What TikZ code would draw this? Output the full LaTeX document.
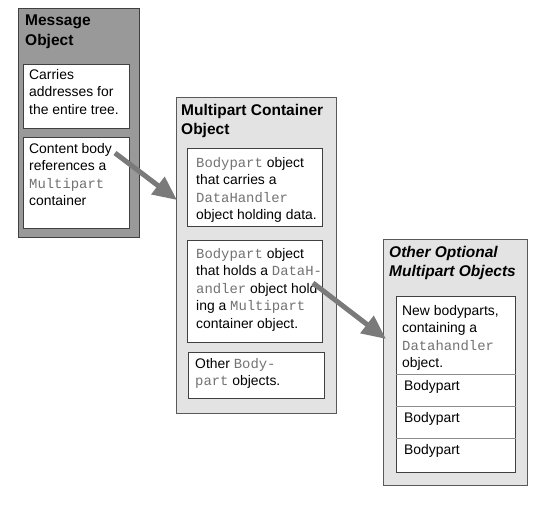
\documentclass[tikz,border=0pt]{standalone}
\usepackage{fontspec}
\setmainfont{Liberation Sans}
\setmonofont{Liberation Mono}
\usetikzlibrary{arrows.meta}
\definecolor{codegray}{gray}{0.45}
\newcommand{\cls}[1]{\textcolor{codegray}{\texttt{#1}}}
\begin{document}
\begin{tikzpicture}
      [x=1pt,y=-1pt,
      every node/.style={anchor=north west, inner sep=0pt},
      panel/.style={draw=black!65, fill=black!11},
      cell/.style={draw=black!75, fill=white, semithick},
      title/.style={align=left, font=\fontsize{15.5}{19.5}\selectfont\bfseries},
      txt/.style={align=left, font=\fontsize{13.9}{17.5}\selectfont},
      bigarrow/.style={draw=black!52, line width=5pt, -{Triangle[length=24pt,width=21pt]}},
      ]
      \useasboundingbox (0,0) rectangle (554,510);
      % message object
      \node[panel, fill=black!40, draw=black!75, minimum width=121pt, minimum height=229pt] (msg) at (18,8) {};
      \node[title] (msgtitle) at (25,15) {Message\\Object};
      \node[cell, minimum width=106pt, minimum height=64pt] (carry) at (23,64) {};
      \node[txt] (carrytxt) at (29,69) {Carries\\addresses for\\the entire tree.};
      \node[cell, minimum width=106pt, minimum height=91pt] (content) at (23,137) {};
      \node[txt] (contenttxt) at (29,143) {Content body\\references a\\\cls{Multipart}\\container};
      % multipart container
      \node[panel, minimum width=160pt, minimum height=316pt] (mp) at (176,97) {};
      \node[title] (mptitle) at (181,104) {Multipart Container\\Object};
      \node[cell, minimum width=135pt, minimum height=78pt] (bp1) at (187,148) {};
      \node[txt] (bp1txt) at (196,157) {\cls{Bodypart} object\\that carries a\\\cls{DataHandler}\\object holding data.};
      \node[cell, minimum width=135pt, minimum height=102pt] (bp2) at (187,240) {};
      \node[txt] (bp2txt) at (196,248) {\cls{Bodypart} object\\that holds a \cls{DataH-}\\\cls{andler} object hold-\\ing a \cls{Multipart}\\container object.};
      \node[cell, minimum width=136pt, minimum height=46pt] (bp3) at (188,352) {};
      \node[txt] (bp3txt) at (195,358) {Other \cls{Body-}\\\cls{part} objects.};
      % other optional objects
      \node[panel, minimum width=144pt, minimum height=246pt] (opt) at (383,239) {};
      \node[title, font=\fontsize{15.5}{19.5}\selectfont\bfseries\itshape] (opttitle) at (389,246) {Other Optional\\Multipart Objects};
      \node[cell, minimum width=119pt, minimum height=176pt] (newbp) at (396,296) {};
      \node[txt] (newbptxt) at (402,305) {New bodyparts,\\containing a\\\cls{Datahandler}\\object.};
      \foreach \y/\n in {374/a, 406/b, 438/c} {
        \draw[black!45] (newbp.west |- 0,\y) -- (newbp.east |- 0,\y);
        \node[txt] (bodypart\n) at (404,\y+6) {Bodypart};
      }
      % references
      \coordinate (bodyref) at (115,153);
      \coordinate (mpentry) at (177,200);
      \coordinate (holdref) at (313,283);
      \coordinate (optentry) at (386,339);
      \draw[bigarrow] (bodyref) -- (mpentry);
      \draw[bigarrow] (holdref) -- (optentry);
\end{tikzpicture}
\end{document}
